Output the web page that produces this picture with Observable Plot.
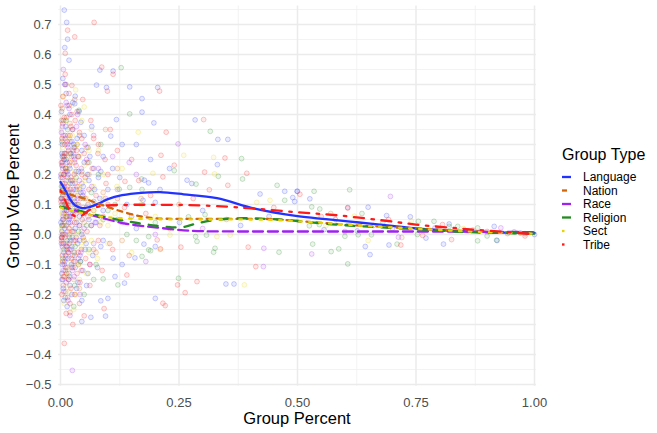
<!DOCTYPE html>
<html>
<head>
<meta charset="utf-8">
<script src="https://cdn.jsdelivr.net/npm/d3@7"></script>
<script src="https://cdn.jsdelivr.net/npm/@observablehq/plot@0.6"></script>
<style>
  body { margin: 0; background: #fff; }
  #chart { width: 657px; height: 433px; }
</style>
</head>
<body>
<div id="chart"></div>
<script>
// Group types and their styling
const groupTypes = ["Language", "Nation", "Race", "Religion", "Sect", "Tribe"];
const groupColors = ["#2233ff", "#d2650a", "#a020f0", "#228b22", "#e8d400", "#ff1a1a"];
const groupDashes = ["none", "5,5", "10,5", "9,9", "2.5,7.5", "2.5,7.5,10,7.5"];

// Observations per group: [group percent, group vote percent]
const languagePts = [
  [0.008,0.748],[0.013,0.707],[0.015,0.651],[0.009,0.623],[0.018,0.581],[0.031,0.461],[0.03,0.436],[0.043,0.374],
  [0.005,0.52],[0.012,0.47],[0.02,0.40],[0.006,0.38],[0.025,0.35],[0.01,0.33],[0.035,0.32],[0.004,0.30],
  [0.016,0.29],[0.045,0.28],[0.008,0.27],[0.028,0.26],[0.012,0.25],[0.05,0.24],[0.003,0.23],[0.02,0.22],
  [0.038,0.21],[0.007,0.2],[0.015,0.19],[0.06,0.18],[0.025,0.17],[0.004,0.16],[0.033,0.15],[0.011,0.14],
  [0.047,0.13],[0.019,0.12],[0.006,0.11],[0.03,0.1],[0.055,0.09],[0.013,0.08],[0.022,0.07],[0.04,0.06],
  [0.005,0.05],[0.017,0.04],[0.065,0.03],[0.009,0.02],[0.028,0.01],[0.045,0.0],[0.003,-0.01],[0.021,-0.02],
  [0.036,-0.03],[0.012,-0.04],[0.052,-0.05],[0.007,-0.06],[0.026,-0.07],[0.016,-0.08],[0.042,-0.09],[0.004,-0.1],
  [0.031,-0.11],[0.01,-0.12],[0.058,-0.13],[0.019,-0.14],[0.037,-0.16],[0.006,-0.18],[0.024,-0.2],[0.045,-0.22],
  [0.064,-0.276],[0.045,-0.29],[0.014,-0.24],
  [0.002,0.41],[0.011,0.36],[0.024,0.31],[0.003,0.27],[0.014,0.24],[0.033,0.21],[0.001,0.19],[0.009,0.17],
  [0.027,0.15],[0.043,0.14],[0.002,0.12],[0.016,0.11],[0.035,0.09],[0.07,0.11],[0.008,0.08],[0.021,0.06],
  [0.05,0.07],[0.001,0.04],[0.012,0.03],[0.031,0.02],[0.075,0.04],[0.006,0.0],[0.019,-0.01],[0.04,-0.02],
  [0.002,-0.03],[0.014,-0.05],[0.029,-0.06],[0.068,-0.07],[0.009,-0.09],[0.023,-0.1],[0.047,-0.12],[0.003,-0.13],
  [0.017,-0.15],[0.034,-0.18],[0.007,-0.22],[0.05,0.33],[0.062,0.26],[0.08,0.19],[0.072,0.15],[0.09,0.08],
  [0.085,-0.04],[0.078,-0.11],[0.066,0.36],[0.057,0.2],[0.039,0.41],[0.026,0.44],[0.01,0.5],[0.02,0.27],
  [0.037,0.26],[0.055,-0.17],
  [0.004,0.26],[0.013,0.21],[0.022,0.18],[0.006,0.14],[0.029,0.12],[0.01,0.1],[0.018,0.05],[0.034,0.04],
  [0.003,0.01],[0.024,-0.04],[0.011,-0.07],[0.041,-0.07],[0.005,-0.15],[0.02,-0.17],[0.028,0.3],[0.014,0.43],
  [0.048,0.16],[0.06,0.05],[0.054,-0.03],[0.07,0.22],[0.083,0.12],[0.058,0.29],
  [0.083,0.548],[0.111,0.545],[0.146,0.492],[0.205,0.49],[0.076,0.498],[0.097,0.49],[0.172,0.453],[0.172,0.408],
  [0.284,0.382],[0.197,0.372],[0.118,0.383],[0.106,0.328],[0.332,0.317],[0.353,0.317],[0.331,0.233],[0.177,0.181],
  [0.186,0.172],[0.267,0.181],[0.277,0.17],[0.473,0.144],[0.499,0.144],[0.421,0.135],[0.494,0.11],[0.2,0.107],
  [0.174,0.114],[0.251,0.04],[0.176,-0.032],[0.2,-0.04],[0.157,-0.078],[0.111,-0.079],[0.349,-0.165],[0.366,-0.165],
  [0.2,-0.213],[0.135,-0.162],[0.1,-0.213],[0.085,-0.221],[0.095,-0.272],[0.09,0.26],[0.13,0.3],[0.085,0.21],
  [0.1,0.15],[0.12,0.05],[0.14,0.1],[0.09,-0.02],[0.16,0.02],[0.3,0.08],[0.38,0.03],[0.44,0.06],[0.23,0.22],
  [0.11,0.22],[0.125,0.19],[0.15,0.06],[0.13,-0.1],[0.19,0.25],[0.21,0.15],[0.16,0.3],[0.115,-0.14],
  [0.5,0.144],[0.49,0.123],[0.526,0.119],[0.606,0.09],[0.649,0.091],[0.688,0.063],[0.738,0.059],[0.82,0.035],
  [0.915,0.027],[0.556,0.016],[0.626,0.012],[0.771,-0.012],[0.693,-0.035],[0.643,-0.04],[0.653,-0.067],[0.921,-0.02],
  [0.808,-0.032],[0.97,0.005],[1.0,0.0],[0.86,0.012],[0.58,0.05],[0.7,0.02]
];
const nationPts = [
  [0.012,0.5],[0.004,0.42],[0.02,0.37],[0.035,0.3],[0.008,0.26],[0.015,0.21],[0.045,0.17],[0.003,0.14],
  [0.025,0.1],[0.01,0.07],[0.05,0.04],[0.018,0.0],[0.006,-0.03],[0.03,-0.07],[0.014,-0.11],[0.04,-0.18],[0.02,-0.26],
  [0.002,0.38],[0.016,0.33],[0.027,0.27],[0.005,0.23],[0.022,0.19],[0.04,0.15],[0.001,0.12],[0.013,0.11],
  [0.032,0.08],[0.008,0.04],[0.024,0.03],[0.045,0.01],[0.003,-0.01],[0.019,-0.05],[0.038,-0.1],[0.006,-0.14],
  [0.028,-0.15],[0.06,0.2],[0.07,0.08],[0.075,-0.06],[0.055,0.29],[0.03,0.45],[0.011,-0.19],[0.09,0.14],[0.05,-0.02],
  [0.095,0.35],[0.12,0.22],[0.085,0.1],[0.17,0.12],[0.13,-0.02],[0.25,0.1],[0.35,0.05],
  [0.57,0.07],[0.72,-0.01],[0.87,0.015]
];
const racePts = [
  [0.006,0.55],[0.012,0.44],[0.004,0.36],[0.02,0.31],[0.009,0.27],[0.03,0.24],[0.005,0.22],[0.016,0.2],
  [0.04,0.18],[0.008,0.16],[0.024,0.14],[0.003,0.12],[0.013,0.1],[0.035,0.08],[0.006,0.06],[0.021,0.04],
  [0.05,0.02],[0.01,0.0],[0.028,-0.02],[0.004,-0.04],[0.017,-0.06],[0.038,-0.08],[0.008,-0.1],[0.025,-0.12],
  [0.012,-0.16],[0.025,-0.453],[0.007,-0.19],
  [0.002,0.34],[0.015,0.3],[0.027,0.28],[0.007,0.25],[0.019,0.23],[0.044,0.22],[0.001,0.2],[0.012,0.18],
  [0.031,0.17],[0.005,0.15],[0.018,0.13],[0.036,0.12],[0.009,0.09],[0.026,0.07],[0.046,0.05],[0.003,0.03],
  [0.015,0.01],[0.033,-0.01],[0.006,-0.03],[0.022,-0.05],[0.043,-0.06],[0.011,-0.08],[0.029,-0.14],[0.003,-0.15],
  [0.058,0.1],[0.066,0.16],[0.073,0.04],[0.062,-0.1],[0.08,0.22],[0.052,0.3],[0.034,0.36],[0.018,0.42],
  [0.009,0.5],[0.041,-0.2],[0.02,-0.27],
  [0.01,0.32],[0.023,0.26],[0.004,0.24],[0.014,0.15],[0.03,0.11],[0.007,0.07],[0.019,0.06],[0.04,0.03],
  [0.002,-0.01],[0.013,-0.03],[0.031,-0.09],[0.006,-0.12],[0.048,0.14],[0.055,0.25],[0.016,-0.22],[0.036,0.4],
  [0.248,0.302],[0.07,0.33],[0.11,0.26],[0.16,0.2],[0.095,0.12],[0.13,0.04],[0.07,-0.03],[0.18,-0.09],
  [0.429,-0.046],[0.428,-0.107],[0.3,0.02],[0.12,0.15],[0.145,0.24],[0.2,0.0],
  [0.696,0.127],[0.53,-0.065],[0.713,-0.009],[0.929,0.022],[0.79,0.022],[0.6,0.01]
];
const religionPts = [
  [0.039,0.414],[0.015,0.35],[0.03,0.29],[0.008,0.25],[0.045,0.21],[0.02,0.17],[0.005,0.13],[0.035,0.1],
  [0.012,0.06],[0.055,0.03],[0.025,-0.01],[0.007,-0.05],[0.042,-0.09],[0.018,-0.13],[0.03,-0.17],[0.01,-0.21],
  [0.06,0.24],[0.07,-0.15],
  [0.003,0.31],[0.022,0.27],[0.011,0.22],[0.033,0.19],[0.002,0.16],[0.017,0.14],[0.048,0.12],[0.008,0.1],
  [0.026,0.08],[0.004,0.03],[0.038,0.01],[0.014,-0.02],[0.031,-0.04],[0.06,-0.05],[0.005,-0.08],[0.023,-0.11],
  [0.05,-0.2],[0.065,0.14],[0.08,0.2],[0.075,-0.1],[0.09,0.05],[0.012,0.38],[0.028,-0.24],[0.085,0.3],[0.04,0.33],
  [0.128,0.556],[0.146,0.402],[0.316,0.344],[0.382,0.253],[0.24,0.213],[0.333,0.194],[0.384,0.185],[0.171,0.185],
  [0.286,0.168],[0.457,0.164],[0.473,0.114],[0.172,0.15],[0.146,0.157],[0.124,0.151],[0.305,0.066],[0.27,0.059],
  [0.285,-0.007],[0.308,-0.002],[0.186,-0.007],[0.288,-0.023],[0.19,-0.054],[0.172,-0.073],[0.186,-0.051],[0.326,-0.046],
  [0.323,-0.059],[0.461,-0.059],[0.249,-0.146],[0.121,-0.168],[0.09,-0.148],[0.1,0.08],[0.14,0.0],
  [0.115,0.1],[0.16,-0.02],[0.2,0.04],
  [0.535,0.144],[0.61,0.149],[0.53,0.092],[0.547,0.085],[0.636,0.07],[0.755,0.044],[0.788,0.044],[0.82,0.027],
  [0.838,0.027],[0.88,0.022],[0.9,-0.005],[0.92,-0.019],[0.957,0.009],[0.98,0.003],[0.88,-0.021],[0.525,0.029],
  [0.546,0.033],[0.6,-0.006],[0.628,-0.001],[0.656,-0.001],[0.71,-0.032],[0.532,-0.032],[0.571,-0.057],[0.587,-0.048],
  [0.606,-0.098],[0.753,0.0],[0.68,0.04]
];
const sectPts = [
  [0.032,0.482],[0.05,0.425],[0.01,0.38],[0.025,0.33],[0.005,0.29],[0.04,0.26],[0.015,0.22],[0.03,0.18],
  [0.008,0.15],[0.055,0.12],[0.02,0.09],[0.004,0.07],[0.045,0.05],[0.013,0.03],[0.035,0.0],[0.007,-0.03],
  [0.06,-0.06],[0.022,-0.09],[0.011,-0.12],[0.04,-0.15],[0.018,-0.19],[0.028,-0.25],[0.07,0.08],[0.065,-0.02],
  [0.002,0.35],[0.018,0.32],[0.035,0.3],[0.009,0.27],[0.024,0.24],[0.05,0.23],[0.003,0.2],[0.015,0.18],
  [0.041,0.16],[0.006,0.13],[0.027,0.12],[0.058,0.1],[0.011,0.06],[0.033,0.05],[0.002,0.02],[0.02,0.01],
  [0.048,-0.02],[0.009,-0.05],[0.029,-0.06],[0.004,-0.09],[0.038,-0.1],[0.015,-0.14],[0.032,-0.2],[0.07,0.16],
  [0.08,0.28],[0.078,-0.08],[0.09,0.12],[0.1,-0.03],[0.065,0.35],[0.045,0.38],[0.024,0.43],[0.006,0.46],
  [0.012,-0.17],[0.055,-0.13],[0.085,0.04],
  [0.007,0.31],[0.019,0.26],[0.03,0.21],[0.003,0.17],[0.012,0.1],[0.038,0.08],[0.006,0.0],[0.025,-0.03],
  [0.014,-0.07],[0.044,-0.04],[0.008,-0.23],[0.052,0.18],[0.06,0.28],[0.036,0.14],
  [0.164,0.341],[0.26,0.264],[0.323,0.257],[0.325,0.202],[0.195,0.204],[0.119,0.16],[0.442,0.114],[0.414,0.107],
  [0.33,-0.007],[0.358,-0.002],[0.231,-0.002],[0.388,-0.168],[0.1,0.03],[0.15,-0.06],[0.2,0.06],[0.09,0.2],
  [0.13,0.22],[0.17,0.1],[0.115,0.07],[0.21,-0.05],
  [0.62,0.061],[0.649,-0.02],[0.74,0.045],[0.85,0.02],[0.56,0.03]
];
const tribePts = [
  [0.071,0.707],[0.015,0.681],[0.03,0.659],[0.01,0.604],[0.01,0.534],[0.024,0.497],[0.005,0.46],[0.018,0.43],
  [0.035,0.41],[0.008,0.39],[0.022,0.36],[0.04,0.34],[0.003,0.32],[0.014,0.31],[0.028,0.29],[0.05,0.27],
  [0.007,0.26],[0.019,0.24],[0.033,0.23],[0.01,0.21],[0.045,0.2],[0.004,0.19],[0.025,0.18],[0.015,0.16],
  [0.06,0.15],[0.008,0.14],[0.036,0.13],[0.02,0.11],[0.003,0.1],[0.048,0.09],[0.012,0.08],[0.027,0.06],
  [0.006,0.05],[0.04,0.03],[0.018,0.02],[0.056,0.01],[0.009,-0.01],[0.032,-0.02],[0.014,-0.04],[0.044,-0.05],
  [0.004,-0.07],[0.023,-0.08],[0.062,-0.1],[0.011,-0.11],[0.035,-0.13],[0.017,-0.15],[0.006,-0.17],[0.05,-0.271],
  [0.026,-0.3],[0.012,-0.263],[0.008,-0.363],[0.03,-0.2],[0.02,-0.23],
  [0.001,0.43],[0.013,0.39],[0.026,0.35],[0.006,0.33],[0.017,0.28],[0.038,0.26],[0.002,0.24],[0.011,0.22],
  [0.029,0.2],[0.052,0.19],[0.004,0.17],[0.021,0.15],[0.042,0.12],[0.001,0.11],[0.016,0.09],[0.033,0.07],
  [0.058,0.06],[0.007,0.03],[0.025,0.01],[0.048,-0.01],[0.002,-0.02],[0.019,-0.03],[0.037,-0.06],[0.005,-0.09],
  [0.028,-0.09],[0.053,-0.08],[0.013,-0.13],[0.041,-0.16],[0.003,-0.2],[0.022,-0.18],[0.067,0.22],[0.075,0.13],
  [0.083,0.03],[0.07,-0.05],[0.088,-0.12],[0.079,0.27],[0.064,0.38],[0.047,0.45],[0.031,0.38],[0.009,0.3],
  [0.018,0.47],[0.035,0.16],[0.057,0.24],[0.062,-0.17],[0.015,-0.21],[0.045,0.32],[0.096,0.17],[0.1,0.1],
  [0.104,-0.03],[0.094,0.25],
  [0.005,0.37],[0.02,0.33],[0.012,0.27],[0.03,0.25],[0.007,0.2],[0.023,0.13],[0.009,0.12],[0.038,0.1],
  [0.014,0.06],[0.004,0.0],[0.03,0.04],[0.016,-0.06],[0.026,-0.11],[0.008,-0.14],[0.044,-0.12],[0.034,0.28],
  [0.052,0.12],[0.065,0.03],[0.07,0.32],[0.08,-0.02],[0.024,0.4],[0.04,-0.23],
  [0.087,0.558],[0.111,0.534],[0.209,0.478],[0.099,0.478],[0.302,0.383],[0.223,0.341],[0.212,0.264],[0.347,0.255],
  [0.24,0.231],[0.304,0.208],[0.393,0.204],[0.216,0.192],[0.353,0.164],[0.314,0.149],[0.136,0.177],[0.204,-0.018],
  [0.254,-0.042],[0.211,-0.048],[0.396,-0.042],[0.412,-0.107],[0.247,-0.168],[0.263,-0.194],[0.288,-0.157],[0.216,-0.229],
  [0.221,-0.237],[0.14,-0.135],[0.092,-0.247],[0.08,0.3],[0.1,0.2],[0.12,0.12],[0.09,0.06],[0.15,0.25],
  [0.18,0.07],[0.11,-0.05],[0.28,0.12],[0.45,0.09],
  [0.12,0.28],[0.135,0.09],[0.165,0.18],[0.105,0.35],[0.19,0.13],[0.145,-0.07],[0.23,0.02],
  [0.505,0.134],[0.606,0.088],[0.692,0.05],[0.806,0.033],[0.943,0.003],[0.825,-0.017],[0.764,-0.003],[0.718,-0.035],
  [0.55,0.06],[0.9,0.01],[0.98,-0.005],[0.66,0.03]
];

// Smoothed trend per group (x, fitted y)
const languageFitX = [0, 0.01, 0.02, 0.03, 0.045, 0.06, 0.08, 0.1, 0.13, 0.17, 0.21, 0.26, 0.33, 0.41, 0.5, 0.56, 0.63, 0.7, 0.75, 0.82, 0.9, 1.0];
const languageFitY = [0.175, 0.148, 0.118, 0.098, 0.088, 0.091, 0.103, 0.118, 0.131, 0.139, 0.141, 0.134, 0.121, 0.086, 0.061, 0.051, 0.04, 0.029, 0.02, 0.013, 0.008, 0.005];
const nationFitX = [0, 0.02, 0.05, 0.085, 0.12, 0.17, 0.2, 0.25, 0.35, 0.45, 0.5, 0.6, 0.7, 0.75, 0.85, 0.95, 1.0];
const nationFitY = [0.142, 0.133, 0.12, 0.1, 0.081, 0.06, 0.054, 0.052, 0.052, 0.051, 0.045, 0.033, 0.024, 0.02, 0.012, 0.006, 0.004];
const raceFitX = [0, 0.03, 0.064, 0.1, 0.134, 0.17, 0.204, 0.26, 0.3, 0.4, 0.5, 0.6, 0.7, 0.8, 0.9, 1.0];
const raceFitY = [0.092, 0.081, 0.065, 0.05, 0.037, 0.029, 0.023, 0.014, 0.011, 0.01, 0.01, 0.01, 0.01, 0.01, 0.009, 0.008];
const religionFitX = [0, 0.03, 0.064, 0.1, 0.134, 0.17, 0.204, 0.235, 0.26, 0.29, 0.33, 0.375, 0.42, 0.46, 0.5, 0.565, 0.64, 0.7, 0.75, 0.81, 0.86, 0.93, 1.0];
const religionFitY = [0.092, 0.083, 0.069, 0.056, 0.046, 0.036, 0.029, 0.024, 0.025, 0.038, 0.049, 0.054, 0.053, 0.05, 0.045, 0.035, 0.027, 0.022, 0.018, 0.012, 0.008, 0.005, 0.003];
const sectFitX = [0, 0.03, 0.07, 0.12, 0.2, 0.3, 0.4, 0.47, 0.55, 0.65, 0.75, 0.85, 0.95, 1.0];
const sectFitY = [0.09, 0.077, 0.063, 0.055, 0.051, 0.05, 0.05, 0.047, 0.039, 0.028, 0.019, 0.011, 0.005, 0.003];
const tribeFitX = [0, 0.01, 0.02, 0.03, 0.045, 0.06, 0.08, 0.1, 0.15, 0.2, 0.27, 0.35, 0.41, 0.5, 0.59, 0.7, 0.75, 0.85, 0.95, 1.0];
const tribeFitY = [0.148, 0.113, 0.078, 0.061, 0.063, 0.081, 0.093, 0.097, 0.099, 0.099, 0.098, 0.093, 0.086, 0.074, 0.063, 0.043, 0.033, 0.019, 0.007, 0.001];

// Axis ticks
const xTicks = [0, 0.25, 0.5, 0.75, 1];
const xMinor = [0.125, 0.375, 0.625, 0.875];
const yTicks = [-0.5, -0.4, -0.3, -0.2, -0.1, 0, 0.1, 0.2, 0.3, 0.4, 0.5, 0.6, 0.7];
const yMinor = [-0.45, -0.35, -0.25, -0.15, -0.05, 0.05, 0.15, 0.25, 0.35, 0.45, 0.55, 0.65, 0.75];

const ptsByGroup = [languagePts, nationPts, racePts, religionPts, sectPts, tribePts];
const fitsByGroup = [
  [languageFitX, languageFitY], [nationFitX, nationFitY], [raceFitX, raceFitY],
  [religionFitX, religionFitY], [sectFitX, sectFitY], [tribeFitX, tribeFitY]
];

const points = ptsByGroup.flatMap((arr, i) => arr.map(([x, y]) => ({type: groupTypes[i], x, y})));
const fits = fitsByGroup.map(([xs, ys], i) => xs.map((x, j) => ({type: groupTypes[i], x, y: ys[j]})));

const font = "'Liberation Sans', Arial, sans-serif";

const chart = Plot.plot({
  width: 657,
  height: 433,
  marginLeft: 60,
  marginRight: 123,
  marginTop: 9,
  marginBottom: 49,
  style: {fontFamily: font, fontSize: "13px", background: "#fff", overflow: "visible"},
  x: {domain: [0, 1]},
  y: {domain: [-0.5, 0.75]},
  color: {domain: groupTypes, range: groupColors},
  marks: [
    Plot.ruleY(yMinor, {x1: -0.004, x2: 1.004, stroke: "#f0f0f0", strokeWidth: 0.8}),
    Plot.ruleX(xMinor, {y1: -0.506, y2: 0.762, stroke: "#f0f0f0", strokeWidth: 0.8}),
    Plot.ruleY(yTicks, {x1: -0.004, x2: 1.004, stroke: "#ebebeb", strokeWidth: 1.5}),
    Plot.ruleX(xTicks, {y1: -0.506, y2: 0.762, stroke: "#ebebeb", strokeWidth: 1.5}),
    Plot.dot(points, {
      x: "x", y: "y", r: 2.4,
      stroke: "type", fill: "type",
      strokeWidth: 0.9, strokeOpacity: 0.27, fillOpacity: 0.09
    }),
    ...fits.map((rows, i) => Plot.line(rows, {
      x: "x", y: "y",
      stroke: groupColors[i],
      strokeWidth: 2.3,
      strokeDasharray: groupDashes[i],
      curve: "catmull-rom"
    })),
    Plot.axisX(xTicks, {
      tickFormat: d3.format(".2f"), tickSize: 0, tickPadding: 13,
      fontSize: 13, fill: "#4d4d4d", label: null
    }),
    Plot.axisY(yTicks, {
      tickFormat: d3.format(".1f"), tickSize: 0, tickPadding: 9,
      fontSize: 13, fill: "#4d4d4d", label: null
    })
  ]
});

document.getElementById("chart").appendChild(chart);

// Axis titles and legend
const svg = d3.select(chart);
svg.append("text")
  .attr("x", 297).attr("y", 424)
  .attr("text-anchor", "middle")
  .style("font-family", font).style("font-size", "16.5px").attr("fill", "#000")
  .text("Group Percent");
svg.append("text")
  .attr("transform", "translate(18.5,196) rotate(-90)")
  .attr("text-anchor", "middle")
  .style("font-family", font).style("font-size", "16.5px").attr("fill", "#000")
  .text("Group Vote Percent");

const legend = svg.append("g").attr("transform", "translate(562,0)").attr("text-anchor", "start");
legend.append("text")
  .attr("x", 0).attr("y", 160)
  .attr("text-anchor", "start")
  .style("font-family", font).style("font-size", "16px").attr("fill", "#000")
  .text("Group Type");
groupTypes.forEach((g, i) => {
  const cy = 177 + i * 13.5;
  legend.append("line")
    .attr("x1", 0).attr("x2", 9).attr("y1", cy).attr("y2", cy)
    .attr("stroke", groupColors[i]).attr("stroke-width", 2.3)
    .attr("stroke-dasharray", groupDashes[i] === "none" ? null : groupDashes[i]);
  legend.append("text")
    .attr("x", 21).attr("y", cy).attr("dy", "0.36em")
    .attr("text-anchor", "start")
    .style("font-family", font).style("font-size", "12px").attr("fill", "#000")
    .text(g);
});
</script>
</body>
</html>
